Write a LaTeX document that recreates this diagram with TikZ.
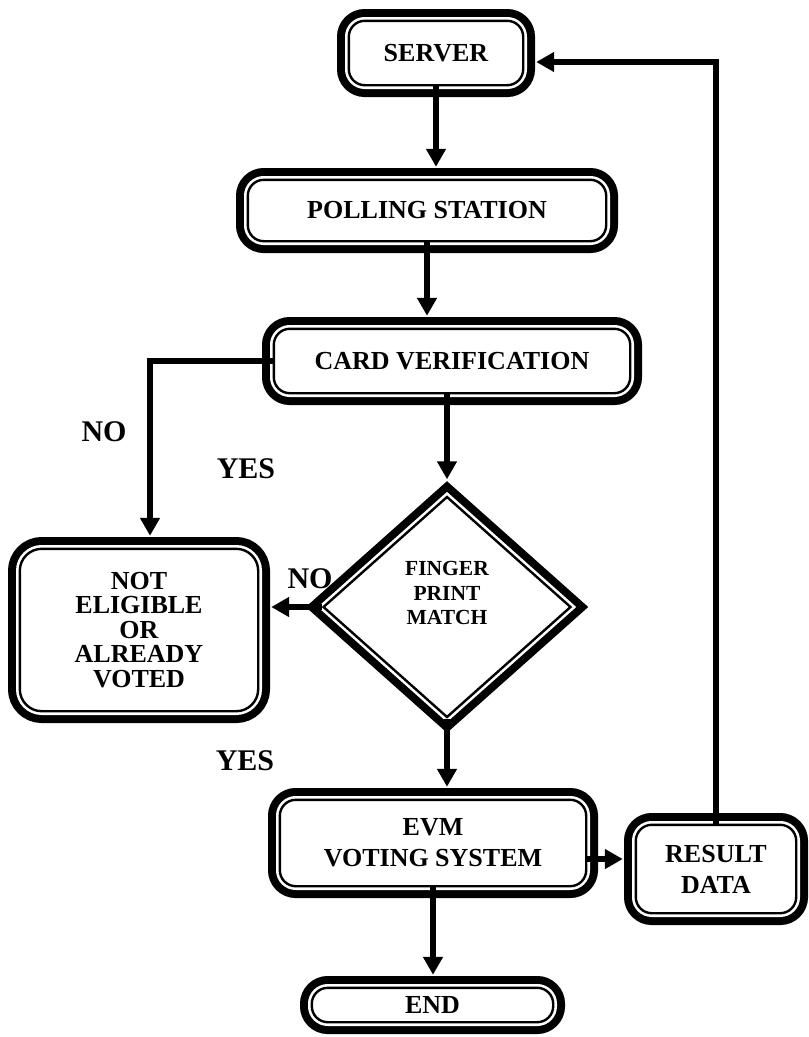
\documentclass[tikz,border=0pt]{standalone}
\usepackage{fontspec}
\setmainfont{Liberation Serif}
\usetikzlibrary{shapes.geometric,arrows.meta}

\begin{document}
\begin{tikzpicture}[x=1pt, y=-1pt,
    dblbox/.style={rectangle, rounded corners=16pt, inner sep=0pt, align=center,
        font=\fontsize{26}{24.5}\selectfont\bfseries,
        preaction={draw, line width=23.6pt},
        preaction={draw, white, line width=7.6pt},
        fill=white, draw, line width=2.4pt},
    dbldia/.style={diamond, inner sep=0pt, align=center,
        font=\fontsize{21.5}{24.5}\selectfont\bfseries,
        preaction={draw, line width=23.6pt},
        preaction={draw, white, line width=7.6pt},
        fill=white, draw, line width=2.4pt},
    flow/.style={line width=6pt, -{Triangle[length=18pt,width=19pt]}, shorten >=11.8pt},
    tag/.style={font=\fontsize{30}{30}\selectfont\bfseries}]
    \useasboundingbox (0,0) rectangle (809,1037);

    % Server
    \node[dblbox, minimum width=174.4pt, minimum height=64.4pt] (srv) at (436,53) {SERVER};

    % Polling station
    \node[dblbox, minimum width=358.4pt, minimum height=61.4pt] (poll) at (427,210.5) {POLLING STATION};

    % Card verification
    \node[dblbox, minimum width=356.4pt, minimum height=64.4pt] (card) at (452,361) {CARD VERIFICATION};

    % Finger print check
    \node[dbldia, minimum width=248pt, minimum height=221pt, text depth=28pt] (finger) at (447,607)
        {FINGER\\PRINT\\MATCH};

    % Rejected voter
    \node[dblbox, rounded corners=22pt, minimum width=238.4pt, minimum height=162.4pt] (inelig) at (139,630)
        {NOT\\ELIGIBLE\\OR\\ALREADY\\VOTED};

    % Voting machine
    \node[dblbox, font=\fontsize{26}{31}\selectfont\bfseries, minimum width=306.4pt, minimum height=86.4pt] (evm) at (433,843)
        {EVM\\VOTING SYSTEM};

    % Result
    \node[dblbox, font=\fontsize{26}{31}\selectfont\bfseries, minimum width=160.4pt, minimum height=88.4pt] (res) at (716,869)
        {RESULT\\DATA};

    % End
    \node[dblbox, minimum width=241.4pt, minimum height=34.4pt] (finish) at (432.5,1005) {END};

    % Connectors
    \draw[flow] (srv.south) -- (srv.south |- poll.north);
    \draw[flow] (poll.south) -- (poll.south |- card.north);
    \draw[flow] (card.west) -| ([xshift=11pt]inelig.north);
    \draw[flow, shorten >=16pt] (card.south -| finger.north) -- (finger.north);
    \draw[flow] (finger.west) -- (finger.west -| inelig.east);
    \draw[flow] (finger.south) -- (finger.south |- evm.north);
    \draw[flow] ([yshift=-16pt]evm.east) -- ([yshift=-16pt]evm.east -| res.west);
    \draw[flow] (res.north) |- ([yshift=-9pt]srv.east);
    \draw[flow] (evm.south) -- (evm.south |- finish.north);

    % Labels
    \node[tag] (noA) at (104,432) {NO};
    \node[tag] (yesA) at (246,469) {YES};
    \node[tag] (noB) at (310,579) {NO};
    \node[tag] (yesB) at (245,761) {YES};
\end{tikzpicture}
\end{document}
